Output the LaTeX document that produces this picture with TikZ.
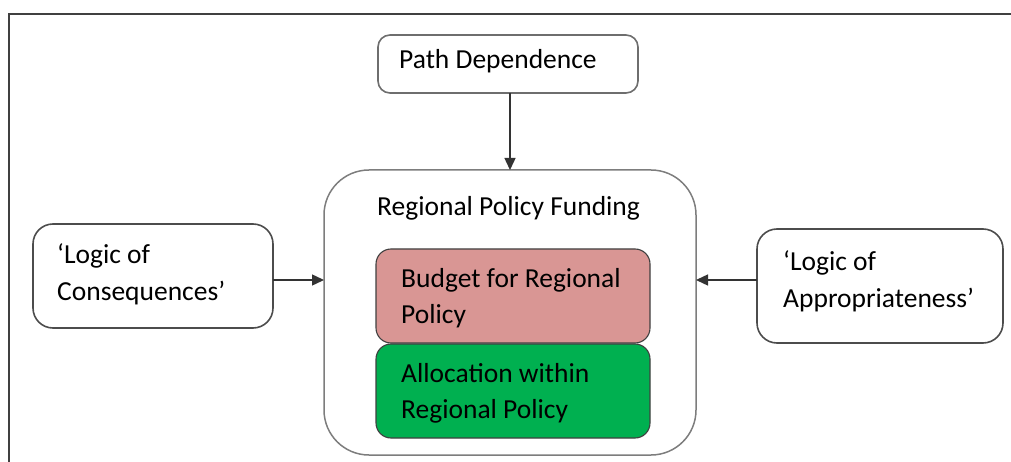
\documentclass[tikz,border=0pt]{standalone}
\usepackage{fontspec}
\setmainfont{Carlito}
\usetikzlibrary{arrows.meta}
\definecolor{framegray}{HTML}{404040}
\definecolor{boxgray}{HTML}{6E6E6E}
\definecolor{budgetpink}{HTML}{D99694}
\definecolor{allocgreen}{HTML}{00B050}
\tikzset{
  box/.style={draw=boxgray, line width=1.6pt, fill=white, rounded corners=#1,
    inner sep=0pt, outer sep=0pt, anchor=north west},
  box/.default=18pt,
  innerbox/.style={draw=black!75, line width=1.1pt, rounded corners=15pt,
    inner sep=0pt, outer sep=0pt, anchor=north west,
    minimum width=274pt, minimum height=94pt},
  txt/.style={anchor=base west, inner sep=0pt,
    font=\fontsize{27.5}{36.5}\selectfont},
  flow/.style={draw=black!80, line width=1.4pt,
    -{Triangle[width=11pt,length=12pt]}},
}
\begin{document}
\begin{tikzpicture}[x=1pt,y=-1pt]
  \useasboundingbox (0,0) rectangle (1011,462);
  \clip (0,0) rectangle (1011,462);
  % page frame
  \draw[framegray, line width=1.5pt] (9,470) -- (9,14) -- (1020,14);

  % boxes
  \node[box=12pt, minimum width=260pt, minimum height=58pt] (pd) at (378,35) {};
  \node[box=45pt, draw=boxgray!90, line width=1.5pt, minimum width=372pt, minimum height=285pt] (rpf) at (324,170) {};
  \node[box=20pt, draw=black!70, minimum width=240pt, minimum height=104pt] (lc) at (33,224) {};
  \node[box=20pt, draw=black!70, minimum width=246pt, minimum height=114pt] (la) at (757,229) {};
  \node[innerbox, fill=budgetpink] (bud) at (376,249) {};
  \node[innerbox, fill=allocgreen] (alloc) at (376,344) {};

  % labels, one node per line
  \node[txt] (pdt) at (399,69) {Path Dependence};
  \node[txt] (rpft) at (377,216) {Regional Policy Funding};
  \node[txt] (lct1) at (57,263) {‘Logic of};
  \node[txt] (lct2) at (57,300) {Consequences’};
  \node[txt] (lat1) at (783,270) {‘Logic of};
  \node[txt] (lat2) at (783,307) {Appropriateness’};
  \node[txt] (budt1) at (401,287) {Budget for Regional};
  \node[txt] (budt2) at (401,323) {Policy};
  \node[txt] (alloct1) at (401,382) {Allocation within};
  \node[txt] (alloct2) at (401,418) {Regional Policy};

  % connectors
  \coordinate (lvl) at (510,280);
  \draw[flow] (pd.south -| rpf.north) -- (rpf.north);
  \draw[flow] (lc.east |- lvl) -- (rpf.west |- lvl);
  \draw[flow] (la.west |- lvl) -- (rpf.east |- lvl);
\end{tikzpicture}
\end{document}
